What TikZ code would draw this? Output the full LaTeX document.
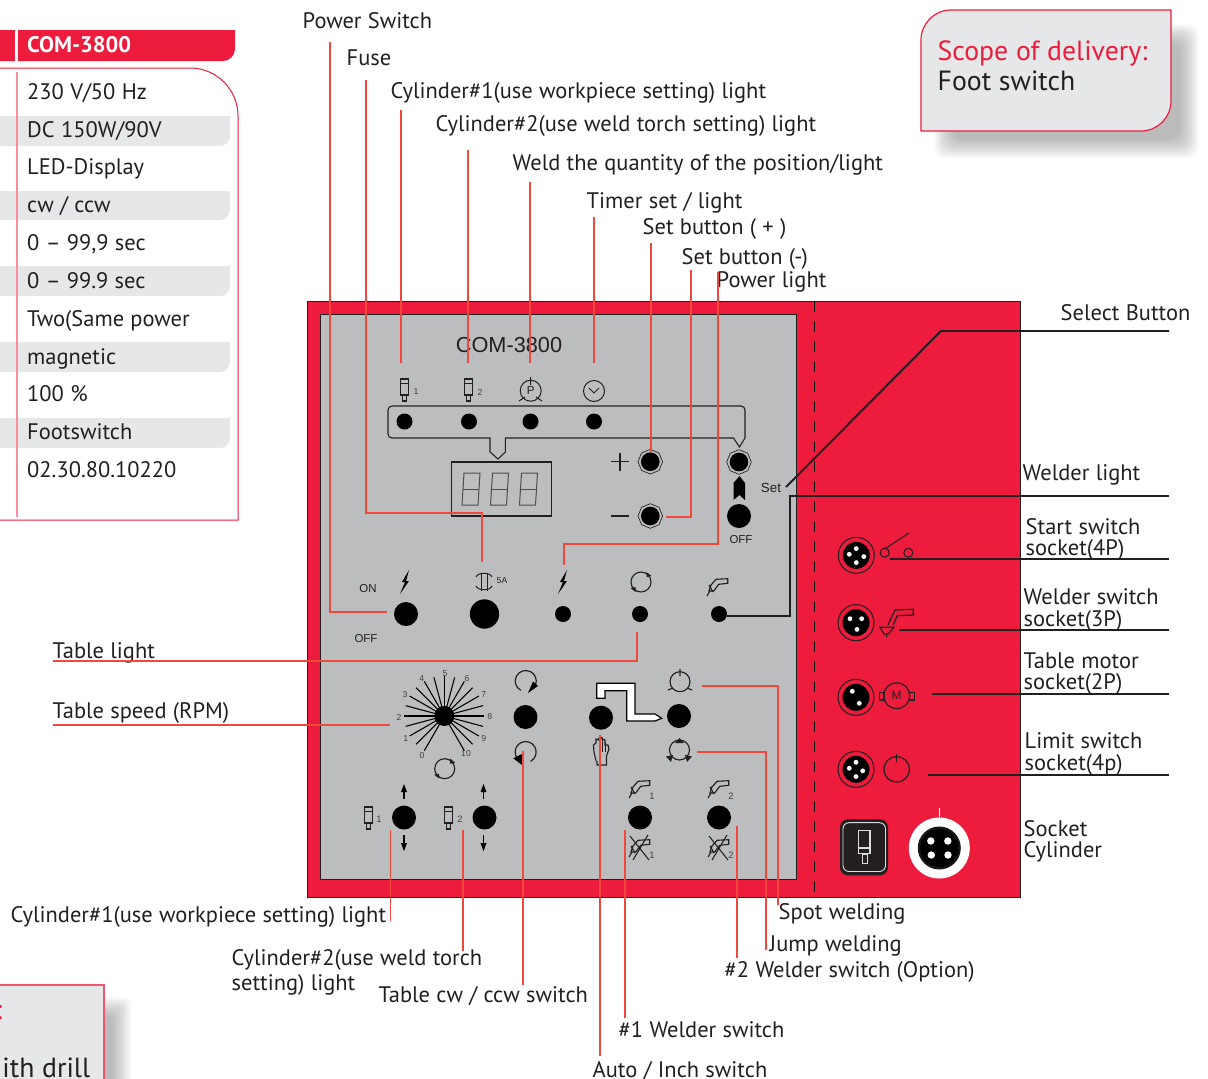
\documentclass[tikz,border=0pt]{standalone}
\usepackage{fontspec}
\setmainfont[WordSpace=1.05]{PT Sans}
\newfontfamily\arialf{Liberation Sans}
\definecolor{panelred}{HTML}{ED1C3D}
\definecolor{lead}{HTML}{F0483A}
\definecolor{panelgray}{HTML}{BBBDBF}
\definecolor{rowgray}{HTML}{E6E7E8}
\definecolor{ink}{HTML}{231F20}
\tikzset{
 lbl/.style={anchor=west,inner sep=0pt,xshift=-.4pt,text height=13pt,text depth=1.8pt,font=\fontsize{16.85pt}{18pt}\selectfont,text=ink},
 lead line/.style={draw=lead,line width=1.35pt},
 blk line/.style={draw=ink,line width=1.45pt},
 ic/.style={draw=ink,line width=.75pt,fill=none},
 btn/.style={circle,fill=black,inner sep=0pt,minimum size=#1},
 oct/.style={regular polygon,regular polygon sides=8,shape border rotate=22.5,draw=ink,fill=panelgray,line width=.5pt,inner sep=0pt,minimum size=#1},
 pn/.style={font=\arialf\fontsize{8.6pt}{10pt}\selectfont,text=ink,inner sep=0pt},
 sm/.style={font=\arialf\fontsize{6.5pt}{7pt}\selectfont,text=ink!85,inner sep=0pt},
 sensoricon/.pic={
  \draw[ic,line width=.85pt,fill=panelgray] (-4,-8) rectangle (4,8);
  \draw[ic] (-4,-4)--(4,-4);
  \draw[ic,line width=.85pt] (-2,8) rectangle (2,14);
 },
 torchicon/.pic={
  \draw[ic,line width=.85pt] (-5,-2)--(0,-7.7)--(11.7,-8.3)--(11.7,-3.7)--(2.7,-2.7)--(-2.3,4)--(-7,4)--cycle;
  \draw[ic,line width=.85pt] (-7,-2)--(-3,5);
  \draw[ic,line width=.85pt] (-6,4)--(-9,9);
 },
 cycicon/.pic={
  \draw[ic,line width=.85pt] (0,0) circle (10);
  \fill[ink] (5.5,-10)--(10.5,-6)--(5.5,-5)--cycle;
  \fill[ink] (-5.5,10)--(-10.5,6)--(-5.5,5)--cycle;
 },
 connbase/.pic={
  \draw[ink,line width=.8pt,fill=panelred] (0,0) circle (18);
  \fill[black] (0,0) circle (13.5);
 },
 pin/.style={fill=white},
 digit/.pic={
  \draw[ink!80,line width=.75pt] (-7,-16)--(9,-16)--(7,16)--(-9,16)--cycle;
  \draw[ink!80,line width=.75pt] (-8,0)--(8,0);
 },
}
\usetikzlibrary{shapes.geometric}
\begin{document}
\begin{tikzpicture}[x=.75pt,y=-.75pt]
\useasboundingbox (0,0) rectangle (1208,1079);
% ---- spec table
\fill[panelred] (0,30)--(235,30)--(235,49) arc[start angle=0,end angle=90,radius=12]--(0,61)--cycle;
\draw[white,line width=1.8pt] (16.5,30)--(16.5,61);
\node[lbl,text=white,font=\fontsize{16.85pt}{18pt}\selectfont\bfseries] (thead) at (27.5,45.5) {COM-3800};
\foreach \ya/\yb in {116/146,191/220,266/296,342/372,418/448}{
 \fill[rowgray] (0,\ya)--(230,\ya)--(230,\yb-10) arc[start angle=0,end angle=90,radius=10]--(0,\yb)--cycle;
}
\draw[panelred,line width=.75pt] (0,68)--(190,68) arc[start angle=270,end angle=360,radius=48]--(238,520)--(0,520);
\draw[panelred!50,line width=1pt] (17,72)--(17,517);
\node[lbl] (t1) at (27.5,92) {230 V/50 Hz};
\node[lbl] (t2) at (27.5,130) {DC 150W/90V};
\node[lbl] (t3) at (27.5,167) {LED-Display};
\node[lbl] (t4) at (27.5,205) {cw / ccw};
\node[lbl] (t5) at (27.5,243) {0 – 99,9 sec};
\node[lbl] (t6) at (27.5,281) {0 – 99.9 sec};
\node[lbl] (t7) at (27.5,319) {Two(Same power};
\node[lbl] (t8) at (27.5,357) {magnetic};
\node[lbl] (t9) at (27.5,394) {100 \%};
\node[lbl] (t10) at (27.5,432) {Footswitch};
\node[lbl] (t11) at (27.5,470) {02.30.80.10220};
% ---- scope box
\foreach \i in {0,...,19}{
 \fill[black,opacity=.016,rounded corners=8pt] (934+\i,24+\i) rectangle (1199-\i,158-\i);
}
\draw[panelred,fill=rowgray,line width=.9pt] (951,10)--(1171,10)--(1171,101) arc[start angle=0,end angle=90,radius=30]--(921,131)--(921,40) arc[start angle=180,end angle=270,radius=30]--cycle;
\node[lbl,text=panelred,text height=15pt,font=\fontsize{20.8pt}{21pt}\selectfont] (scope) at (938,51.5) {Scope of delivery:};
\node[lbl,text height=15pt,font=\fontsize{20.8pt}{21pt}\selectfont] (foot) at (938,82) {Foot switch};
% ---- lower left box
\foreach \i in {0,...,19}{
 \fill[black,opacity=.016,rounded corners=4pt] (0,997+\i) rectangle (131-\i,1095);
}
\draw[panelred!75,fill=rowgray,line width=1pt] (-2,985) rectangle (104,1085);
\node[lbl,text=panelred,anchor=east,text height=15pt,font=\fontsize{20.8pt}{21pt}\selectfont] (colon) at (3,1011) {:};
\node[lbl,anchor=east,text height=15pt,font=\fontsize{20.8pt}{21pt}\selectfont] (drill) at (91,1069) {ith drill};
% ---- panel
\draw[ink,line width=.6pt,fill=panelred] (307,301) rectangle (1020,897);
\draw[ink,line width=.6pt,fill=panelgray] (320,314) rectangle (796,879);
\draw[black,line width=.7pt,dash pattern=on 8pt off 7pt] (814,301)--(814,897);
\node[font=\arialf\fontsize{16.3pt}{18pt}\selectfont,text=ink,inner sep=0pt] (model) at (509,345.5) {COM-3800};
% top strip
\pic at (404.5,387) {sensoricon};
\node[sm] (n1) at (416,392) {1};
\pic at (468.5,387) {sensoricon};
\node[sm] (n2) at (480,392) {2};
\draw[ic] (530.7,390.7) circle (10.5);
\draw[ic] (530.7,377)--(530.7,385) (519,401)--(525,397) (542,401)--(536,397);
\node[pn] (pP) at (530.7,391) {P};
\draw[ic] (594,391) circle (10.5);
\draw[ic] (589,388)--(594,393)--(599,388);
\draw[ink,line width=.8pt] (490,452)--(490,438)[rounded corners=3pt]--(388,438)--(388,406)--(745,406)--(745,420)[sharp corners]--(745,438)--(739.5,447)--(733.5,438)--(505.3,438)--(505.3,452)--(498,459)--cycle;
\node[btn=12] (d1) at (404.5,421.5) {};
\node[btn=12] (d2) at (469,421.5) {};
\node[btn=12] (d3) at (530.5,421.5) {};
\node[btn=12] (d4) at (594,421.5) {};
% display
\draw[ink,line width=.9pt] (451.5,462) rectangle (551.5,516);
\pic at (471,489) {digit};
\pic at (499.5,489) {digit};
\pic at (528.5,489) {digit};
% plus / minus / set
\draw[ink,line width=.8pt] (611,461.5)--(629,461.5) (620,452.5)--(620,470.5);
\draw[ink,line width=.8pt] (611,516)--(629,516);
\node[oct=18.5] (plusO) at (650.3,461.7) {};
\node[btn=14] (plusB) at (650.3,461.7) {};
\node[oct=18.5] (minusO) at (650.3,516) {};
\node[btn=14] (minusB) at (650.3,516) {};
\node[oct=18.5] (setO) at (739,462) {};
\node[btn=14] (setB) at (739,462) {};
\fill[black] (733.5,483)--(739.5,476)--(745,483)--(745,500)--(739.5,495)--(733.5,500)--cycle;
\node[btn=18] (offB) at (739,516) {};
\node[pn] (offT) at (741,540) {OFF};
\node[pn,font=\arialf\fontsize{10pt}{11pt}\selectfont] (setT) at (771,488) {Set};
% row 2
\node[pn] (onT) at (368,589) {ON};
\node[pn] (offT2) at (366,639) {OFF};
\fill[black] (409,570)--(402,582)--(405,582)--(400,594)--(409,581)--(406,581)--cycle;
\node[btn=18] (pwrB) at (406,614) {};
\draw[ic] (481.5,572.5)--(481.5,590.5) (487,572.5)--(487,590.5);
\draw[ic] (476,577) .. controls (478,572) and (490,572) .. (492,577);
\draw[ic] (476,586) .. controls (478,591) and (490,591) .. (492,586);
\node[pn,font=\arialf\fontsize{6.5pt}{7pt}\selectfont] (fa) at (502,581) {5A};
\node[btn=22] (fuseB) at (484.5,614) {};
\fill[black] (567,570)--(560,582)--(563,582)--(558,594)--(567,581)--(564,581)--cycle;
\node[btn=12] (pwrL) at (563,614) {};
\pic at (641,582) {cycicon};
\node[btn=12] (tabL) at (640,614) {};
\pic at (716,587) {torchicon};
\node[btn=12] (welL) at (719,614) {};
% dial
\foreach \a in {240,225,...,-60}{
 \draw[black,line width=.8pt] (444.3,716)--({444.3+40*cos(\a)},{716-40*sin(\a)});
}
\node[btn=15] (hub) at (444.3,716) {};
\foreach \t/\px/\py in {0/422/755.7,1/405.7/738.7,2/399/717,3/405/694.3,4/421.7/678.7,5/445/674,6/467/679,7/483.7/694.3,8/489.7/716.3,9/483.7/739,10/466/754}{
 \node[sm] at (\px,\py) {\t};
}
\pic at (444.7,768.7) {cycicon};
\draw[ic,line width=.9pt] (520.8,690.3) arc[start angle=118,end angle=397,radius=10.5];
\fill[black] (528,693)--(538,686)--(533,681.5)--cycle;
\node[btn=18] (cwB) at (525.5,717) {};
\draw[ic,line width=.9pt] (530.6,761.3) arc[start angle=62,end angle=-217,radius=10.5];
\fill[black] (513.3,758.3)--(522,754)--(522,765)--cycle;
% lower row left
\pic at (368.7,815) {sensoricon};
\node[sm,font=\arialf\fontsize{7pt}{8pt}\selectfont] (s1) at (379,819) {1};
\node[btn=18] (cy1) at (404,817.5) {};
\pic at (448.3,815) {sensoricon};
\node[sm,font=\arialf\fontsize{7pt}{8pt}\selectfont] (s2) at (460,819) {2};
\node[btn=18] (cy2) at (484.5,817.5) {};
\foreach \xx in {404,483.5}{
 \draw[black,line width=.9pt] (\xx,790)--(\xx,799) (\xx,835)--(\xx,845);
 \fill[black] (\xx,784)--(\xx+3,792)--(\xx-3,792)--cycle;
 \fill[black] (\xx,851)--(\xx+3,843)--(\xx-3,843)--cycle;
}
% auto / inch
\node[btn=18] (autoB) at (601,717.7) {};
\node[btn=18] (spotB) at (679,716) {};
\draw[black,line width=.9pt,fill=white] (596.7,683.3)--(635,683.3)--(635,714)--(655,714)--(661.7,718.3)--(655,721)--(626.7,721)--(626.7,690.7)--(605,690.7)--(605,698.3)--(596.7,698.3)--cycle;
\draw[ic,line width=.85pt] (596,761)--(594,752)--(593.5,745)--(596,743)--(596,739)--(598.5,740)--(599,738)--(602,737.5)--(602,739)--(605,740)--(605,745)--(608,745)--(609,749)--(606.5,756)--(606.5,765)--(597,765)--(597,761);
\draw[ic] (599,739)--(599,752) (602,738)--(602,752) (605,742)--(605,752);
\draw[ic,line width=.85pt] (680,681.7) circle (10);
\draw[ic,line width=.85pt] (680,669)--(680,676) (668,690)--(673,688) (692,690)--(687,688);
\draw[ic,line width=.85pt] (679.5,750) circle (10);
\fill[ink] (679.5,738)--(684,743)--(675,743)--cycle;
\fill[ink] (666,756.5)--(673,755)--(671,762)--cycle;
\fill[ink] (692,756.5)--(685,755)--(687,762)--cycle;
% welders
\foreach \nm/\xo/\lab in {a/0/1,b/79/2}{
 \pic at (638+\xo,789) {torchicon};
 \node[sm,font=\arialf\fontsize{7pt}{8pt}\selectfont] (w\nm) at (652+\xo,796) {\lab};
 \node[btn=18] (wb\nm) at (640+\xo,817.5) {};
 \pic at (638+\xo,848) {torchicon};
 \draw[ink,line width=.8pt] (630+\xo,836)--(649+\xo,860) (633+\xo,860)--(648+\xo,835);
 \node[sm,font=\arialf\fontsize{7pt}{8pt}\selectfont] (x\nm) at (652+\xo,855) {\lab};
}
% ---- right side sockets
\pic at (856.3,555.3) {connbase};
\foreach \dx/\dy in {-7/-1,0/-6.7,7.5/1.3,0/7.3}{\fill[pin] (856.3+\dx,555.3+\dy) circle (2.4);}
\pic at (856,622.7) {connbase};
\foreach \dx/\dy in {-6/-4,5.7/-4,1/6.7}{\fill[pin] (856+\dx,622.7+\dy) circle (2.4);}
\pic at (856,697.3) {connbase};
\foreach \dx/\dy in {-3.7/-6,3.3/6}{\fill[pin] (856+\dx,697.3+\dy) circle (2.4);}
\pic at (856,769.3) {connbase};
\foreach \dx/\dy in {-6.7/-1,0/-7,6.7/1.5,0/7.3}{\fill[pin] (856+\dx,769.3+\dy) circle (2.4);}
\draw[ink,line width=.8pt] (884.7,552.7) circle (4.5) (908.3,552.7) circle (4.5) (884.7,549)--(909,533);
\draw[ink,line width=.9pt] (888,625)--(895,610)--(913.3,609.3)--(913.3,615)--(897.3,615.7)--(893.3,625);
\draw[ink,line width=.9pt] (880,627.3)--(894,627.3)--(888.3,634)--(884,634)--cycle (886.7,634)--(886.7,637);
\draw[ink,line width=.9pt] (896.7,695.7) circle (13);
\node[font=\arialf\fontsize{9pt}{10pt}\selectfont,text=ink,inner sep=0pt] (mot) at (896.7,695.7) {M};
\draw[ink,line width=.9pt] (879.3,692.3) rectangle (884,700);
\draw[ink,line width=.9pt] (909.3,692.3) rectangle (914.3,700);
\draw[ink,line width=.9pt] (896.7,769.3) circle (12.8);
\draw[ink,line width=.9pt] (896.7,754)--(896.7,762);
\fill[ink,rounded corners=6pt] (840,819.3) rectangle (888,875.3);
\draw[white!85!ink,line width=.7pt,rounded corners=4.5pt] (843,822.7) rectangle (885.5,871.5);
\draw[white!85!ink,line width=.8pt] (858.3,830.7) rectangle (870,853.3) (858.3,848)--(870,848) (862.3,854) rectangle (867.3,863.3);
\fill[white] (939.3,848) circle (30.5);
\fill[ink!70!black] (939.3,848) circle (21.5);
\fill[black] (939.3,848) circle (19);
\foreach \dx/\dy in {-8.5/-7,8.5/-7,-8/7,8.7/7}{\fill[white] (939.3+\dx,848+\dy) circle (3.7);}
\draw[white,line width=.7pt] (939.3,808)--(939.3,818);
% ---- labels
\node[lbl] (lA) at (303,21) {Power Switch};
\node[lbl] (lB) at (347,58) {Fuse};
\node[lbl] (lC) at (391,91) {Cylinder\#1(use workpiece setting) light};
\node[lbl] (lD) at (436,124) {Cylinder\#2(use weld torch setting) light};
\node[lbl] (lE) at (513,163) {Weld the quantity of the position/light};
\node[lbl] (lF) at (587,201) {Timer set / light};
\node[lbl] (lG) at (643,227) {Set button ( + )};
\node[lbl] (lH) at (682,257.5) {Set button (-)};
\node[lbl] (lI) at (717,280) {Power light};
\node[lbl] (lJ) at (1061,313) {Select Button};
\node[lbl] (lK) at (1023,473) {Welder light};
\node[lbl] (lL) at (1026,527) {Start switch};
\node[lbl] (lL2) at (1026,548) {socket(4P)};
\node[lbl] (lM) at (1024,597) {Welder switch};
\node[lbl] (lM2) at (1024,619) {socket(3P)};
\node[lbl] (lN) at (1024,661) {Table motor};
\node[lbl] (lN2) at (1024,682) {socket(2P)};
\node[lbl] (lO) at (1025,741) {Limit switch};
\node[lbl] (lO2) at (1025,763) {socket(4p)};
\node[lbl] (lP) at (1024,829) {Socket};
\node[lbl] (lP2) at (1024,850) {Cylinder};
\node[lbl] (lQ) at (53,651) {Table light};
\node[lbl] (lR) at (53,711) {Table speed (RPM)};
\node[lbl] (lS) at (11,915) {Cylinder\#1(use workpiece setting) light};
\node[lbl] (lT) at (232,958) {Cylinder\#2(use weld torch};
\node[lbl] (lT2) at (232,983) {setting) light};
\node[lbl] (lU) at (379,995) {Table cw / ccw switch};
\node[lbl] (lV) at (619,1030) {\#1 Welder switch};
\node[lbl] (lW) at (593,1070) {Auto / Inch switch};
\node[lbl] (lX) at (779,912) {Spot welding};
\node[lbl] (lY) at (770,944) {Jump welding};
\node[lbl] (lZ) at (725,970) {\#2 Welder switch (Option)};
% ---- leaders
\coordinate (a1) at (330,42); \coordinate (a2) at (387,612);
\draw[lead line] (a1) |- (a2);
\coordinate (b1) at (366,80); \coordinate (b2) at (482,513); \coordinate (b3) at (482,562);
\draw[lead line] (b1) |- (b2) -- (b3);
\coordinate (c1) at (401,110); \coordinate (c2) at (401,363); \draw[lead line] (c1)--(c2);
\coordinate (e1) at (468,150); \coordinate (e2) at (468,363); \draw[lead line] (e1)--(e2);
\coordinate (f1) at (530,182); \coordinate (f2) at (530,363); \draw[lead line] (f1)--(f2);
\coordinate (g1) at (594,217); \coordinate (g2) at (594,363); \draw[lead line] (g1)--(g2);
\coordinate (h1) at (651,243); \draw[lead line] (h1)--(plusB.north -| h1);
\coordinate (i1) at (691,270); \coordinate (i2) at (666,517); \draw[lead line] (i1) |- (i2);
\coordinate (j1) at (718,272); \coordinate (j2) at (718,544); \coordinate (j3) at (564,544); \coordinate (j4) at (564,565);
\draw[lead line] (j1)--(j2)--(j3)--(j4);
\coordinate (k1) at (53,661); \coordinate (k2) at (637,661); \coordinate (k3) at (637,632);
\draw[lead line] (k1)--(k2)--(k3);
\coordinate (m1) at (53,725); \coordinate (m2) at (390,725); \draw[lead line] (m1)--(m2);
\coordinate (n1a) at (390.5,830); \coordinate (n1b) at (390.5,921); \draw[lead line] (n1a)--(n1b);
\coordinate (o1) at (463,830); \coordinate (o2) at (463,951); \draw[lead line] (o1)--(o2);
\coordinate (p1) at (523,751); \coordinate (p2) at (523,985); \draw[lead line] (p1)--(p2);
\coordinate (q1) at (600,735); \coordinate (q2) at (600,1056); \draw[lead line] (q1)--(q2);
\coordinate (r1) at (625,830); \coordinate (r2) at (625,1018); \draw[lead line] (r1)--(r2);
\coordinate (u1) at (737,826); \coordinate (u2) at (737,958); \draw[lead line] (u1)--(u2);
\coordinate (v1) at (697,752); \coordinate (v2) at (766,950); \draw[lead line] (v1) -| (v2);
\coordinate (w1) at (702,686); \coordinate (w2) at (778,905); \draw[lead line] (w1) -| (w2);
% ---- black leaders
\coordinate (z1) at (1169,331); \coordinate (z2) at (941,331); \coordinate (z3) at (786,487);
\draw[blk line] (z1)--(z2)--(z3);
\coordinate (y1) at (1169,496); \coordinate (y2) at (790,496); \coordinate (y3) at (790,616);
\draw[blk line] (y1)--(y2)--(y3)--(welL.east |- y3);
\coordinate (x1) at (1169,559); \coordinate (x2) at (890,559); \draw[blk line] (x1)--(x2);
\coordinate (x3) at (1169,630); \coordinate (x4) at (899,630); \draw[blk line] (x3)--(x4);
\coordinate (x5) at (1169,694); \coordinate (x6) at (932,694); \draw[blk line] (x5)--(x6);
\coordinate (x7) at (1169,775); \coordinate (x8) at (928,775); \draw[blk line] (x7)--(x8);
\end{tikzpicture}
\end{document}
